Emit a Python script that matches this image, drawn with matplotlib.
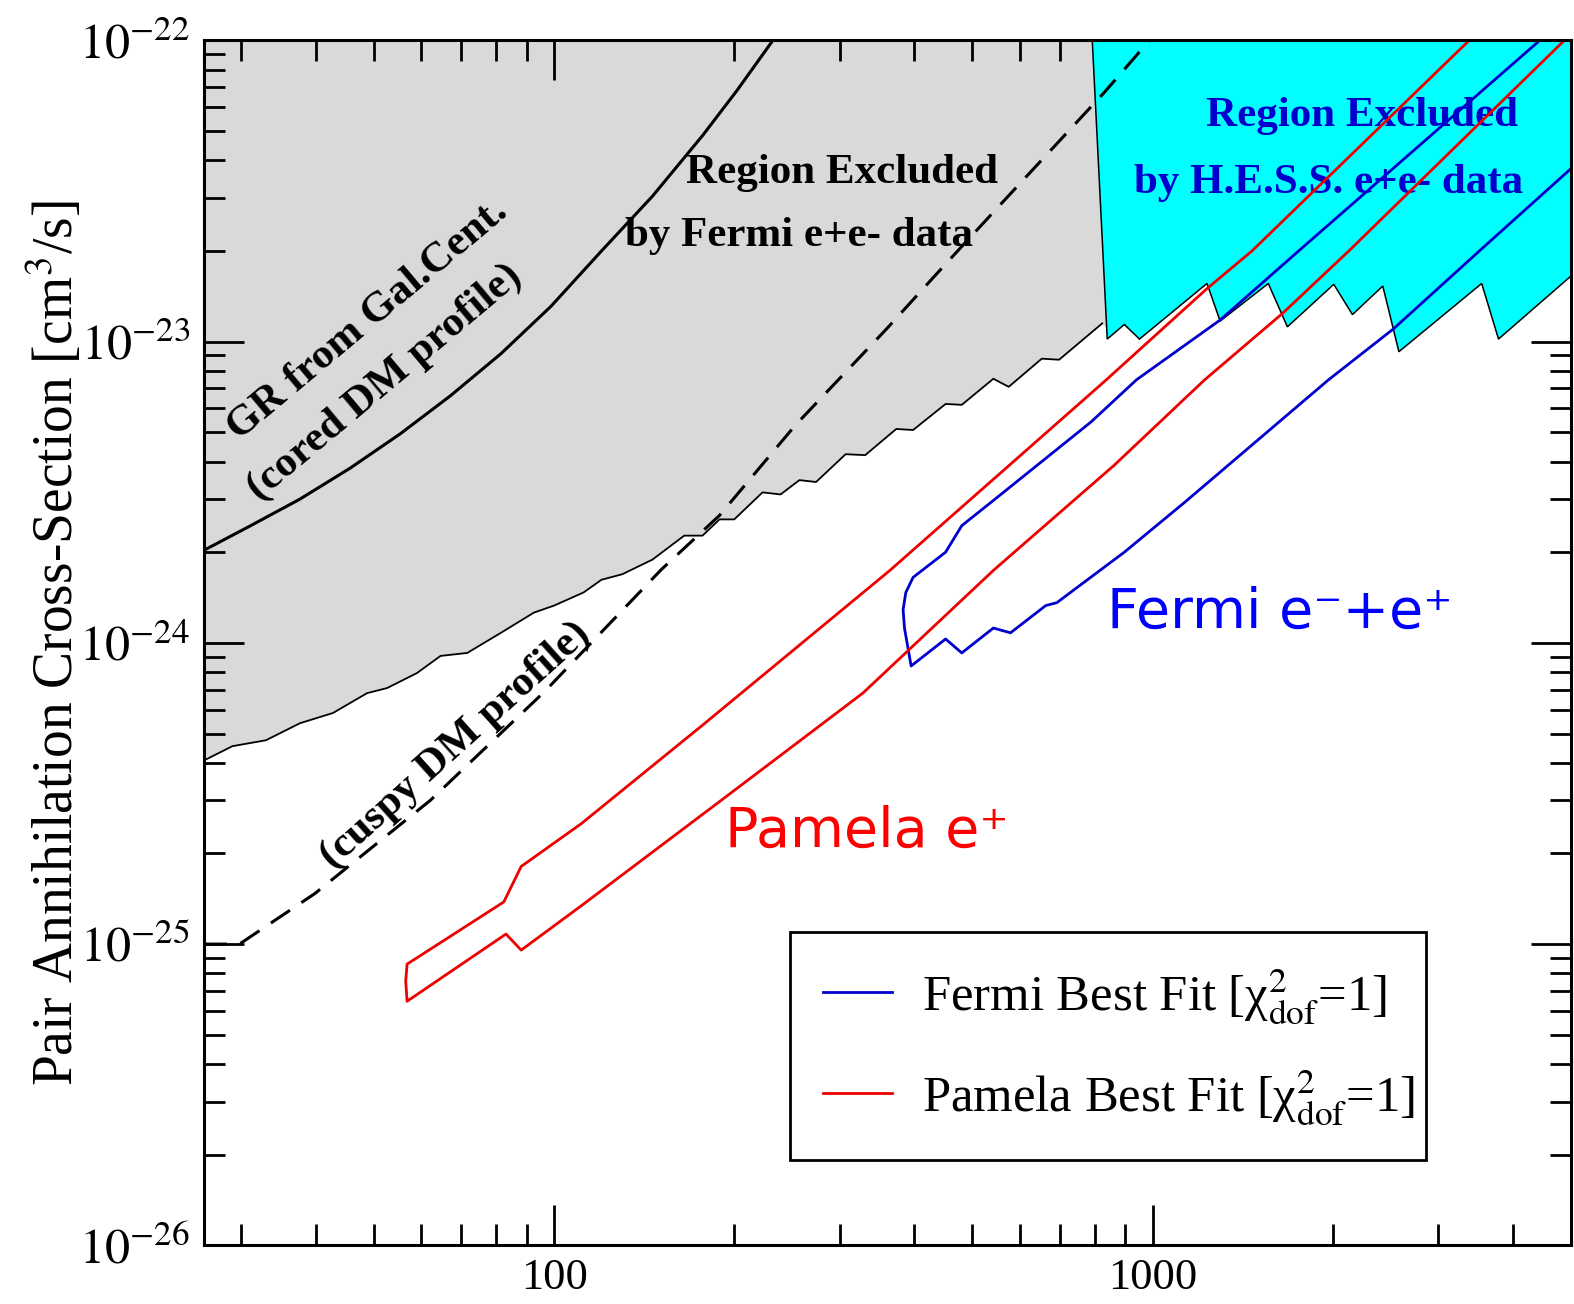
import numpy as np
import matplotlib.pyplot as plt
from matplotlib.ticker import FixedLocator, FixedFormatter, LogLocator, NullFormatter

plt.rcParams['font.family'] = ['Liberation Serif', 'DejaVu Serif']
plt.rcParams['mathtext.fontset'] = 'stix'

# axis ranges (mass in GeV, <sigma v> in cm^3/s)
m_min, m_max = 26, 5000
sv_min, sv_max = 1e-26, 1e-22

# lower edge of the region excluded by Fermi e+e- data (gray)
fermi_excl_m = [26, 29.0, 33.0, 37.6, 42.7, 48.7, 52.6, 59.0, 64.6, 71.6,
                81.5, 92.5, 100, 112, 120, 130, 146, 165, 177, 189,
                200, 223, 239, 257, 274, 307, 331, 373, 398, 451,
                480, 542, 575, 653, 698, 824]
fermi_excl_sv = [4.07e-25, 4.54e-25, 4.75e-25, 5.41e-25, 5.85e-25, 6.81e-25, 7.08e-25, 7.94e-25, 9.05e-25, 9.26e-25,
                 1.08e-24, 1.26e-24, 1.33e-24, 1.47e-24, 1.62e-24, 1.69e-24, 1.89e-24, 2.27e-24, 2.27e-24, 2.57e-24,
                 2.57e-24, 3.16e-24, 3.11e-24, 3.47e-24, 3.42e-24, 4.23e-24, 4.20e-24, 5.13e-24, 5.09e-24, 6.21e-24,
                 6.17e-24, 7.53e-24, 7.08e-24, 8.78e-24, 8.71e-24, 1.15e-23]

# region excluded by H.E.S.S. (cyan): left edge + saw-tooth lower edge
hess_m = [793, 840, 897, 951, 1233, 1297, 1561, 1680, 2008, 2158, 2425, 2580, 3548, 3785, 5000]
hess_sv = [1e-22, 1.02e-23, 1.14e-23, 1.02e-23, 1.56e-23, 1.17e-23, 1.56e-23, 1.12e-23,
           1.55e-23, 1.23e-23, 1.53e-23, 9.26e-24, 1.56e-23, 1.02e-23, 1.65e-23]

# gamma-ray limits from the Galactic Center
gr_cored_m = [26, 31.0, 37.6, 45.6, 55.3, 67.1, 81.5, 98.8, 120, 146, 177, 202, 232]
gr_cored_sv = [2.03e-24, 2.44e-24, 3.0e-24, 3.80e-24, 4.94e-24, 6.61e-24, 9.12e-24,
               1.31e-23, 2.0e-23, 3.04e-23, 4.83e-23, 6.81e-23, 1.0e-22]
gr_cuspy_m = [26, 29.8, 39.8, 62.1, 96.6, 151, 189, 253, 359, 451, 564, 684, 830, 988]
gr_cuspy_sv = [1e-25, 1e-25, 1.47e-25, 3.0e-25, 6.92e-25, 1.75e-24, 2.65e-24, 5.28e-24,
               1.10e-23, 1.81e-23, 2.93e-23, 4.43e-23, 6.71e-23, 1e-22]

# best fit contours
pamela_m = [3381, 1466, 1233, 837, 364, 177, 111, 88.1, 82.4, 56.8, 56.5, 56.8,
            83.1, 88.1, 111, 191, 328, 542, 863, 1222, 1648, 2128, 5000]
pamela_sv = [1e-22, 2.0e-23, 1.50e-23, 7.47e-24, 1.74e-24, 5.33e-25, 2.51e-25, 1.81e-25, 1.38e-25,
             8.58e-26, 7.53e-26, 6.46e-26, 1.08e-25, 9.55e-26, 1.34e-25, 3.02e-25, 6.81e-25,
             1.74e-24, 3.89e-24, 7.47e-24, 1.24e-23, 2.0e-23, 1.05e-22]
fermi_m = [4436, 1754, 1297, 940, 789, 542, 480, 451, 398, 387, 383, 385, 395,
           451, 480, 542, 579, 663, 692, 897, 1132, 1968, 2523, 3516, 5000]
fermi_sv = [1e-22, 2.0e-23, 1.18e-23, 7.47e-24, 5.41e-24, 2.97e-24, 2.45e-24, 2.0e-24, 1.65e-24,
            1.47e-24, 1.29e-24, 1.12e-24, 8.38e-25, 1.03e-24, 9.26e-25, 1.12e-24, 1.08e-24,
            1.33e-24, 1.36e-24, 2.0e-24, 2.93e-24, 7.47e-24, 1.10e-23, 2.0e-23, 3.75e-23]

y_ticks = [1e-26, 1e-25, 1e-24, 1e-23, 1e-22]
y_ticklabels = [r'$10^{-26}$', r'$10^{-25}$', r'$10^{-24}$', r'$10^{-23}$', r'$10^{-22}$']
x_ticks = [100, 1000]
x_ticklabels = ['100', '1000']

fig = plt.figure(figsize=(15.74, 13.04), dpi=100)
ax = fig.add_axes([0.1296, 0.045, 0.8684, 0.924])
ax.set_xscale('log')
ax.set_yscale('log')

# gray region (fill, then its black lower edge)
gx = fermi_excl_m + [840, 840, m_min]
gy = fermi_excl_sv + [1.1e-23, sv_max, sv_max]
ax.fill(gx, gy, color='#d9d9d9', lw=0, zorder=1)
ax.plot(fermi_excl_m, fermi_excl_sv, color='black', lw=1.3, zorder=1.5)

# cyan region
cx = hess_m + [m_max]
cy = hess_sv + [sv_max]
ax.fill(cx, cy, facecolor='#00ffff', edgecolor='black', lw=1.1, zorder=2)

ax.plot(gr_cored_m, gr_cored_sv, color='black', lw=2.2, zorder=4)
ax.plot(gr_cuspy_m, gr_cuspy_sv, color='black', lw=2.2, ls=(0, (7.5, 4.5)), zorder=4)

ax.plot(fermi_m, fermi_sv, color='#0000cc', lw=2.0, zorder=5,
        label=r'Fermi Best Fit [χ$^{2}_{\mathrm{dof}}$=1]')
ax.plot(pamela_m, pamela_sv, color='#ee0000', lw=2.0, zorder=5,
        label=r'Pamela Best Fit [χ$^{2}_{\mathrm{dof}}$=1]')

ax.set_xlim(m_min, m_max)
ax.set_ylim(sv_min, sv_max)

# ticks
ax.xaxis.set_major_locator(FixedLocator(x_ticks))
ax.xaxis.set_major_formatter(FixedFormatter(x_ticklabels))
ax.xaxis.set_minor_locator(LogLocator(base=10, subs=np.arange(2, 10), numticks=30))
ax.xaxis.set_minor_formatter(NullFormatter())
ax.yaxis.set_major_locator(FixedLocator(y_ticks))
ax.yaxis.set_major_formatter(FixedFormatter(y_ticklabels))
ax.yaxis.set_minor_locator(LogLocator(base=10, subs=np.arange(2, 10), numticks=30))
ax.yaxis.set_minor_formatter(NullFormatter())
ax.tick_params(which='both', direction='in', top=True, right=True, width=2)
ax.tick_params(which='major', length=29)
ax.tick_params(which='minor', length=15)
ax.tick_params(axis='x', which='major', pad=9, labelsize=32)
ax.tick_params(axis='y', which='major', pad=10, labelsize=36)
for s in ax.spines.values():
    s.set_linewidth(2.2)
    s.set_zorder(10)

ax.set_ylabel(r'Pair Annihilation Cross-Section [cm$^{3}$/s]', fontsize=40)
ax.yaxis.set_label_coords(-0.087, 0.5)

# annotations
bold = dict(fontsize=31, fontweight='bold', ha='center', va='center', zorder=3)
ax.text(48.9, 1.18e-23, 'GR from Gal.Cent.', rotation=40, **bold)
ax.text(52.2, 7.3e-24, '(cored DM profile)', rotation=40, **bold)
ax.text(68.4, 4.57e-25, '(cuspy DM profile)', rotation=42, **bold)
ax.text(303, 3.63e-23, 'Region Excluded', **bold)
ax.text(257, 2.24e-23, 'by Fermi e+e- data', **bold)
ax.text(2239, 5.62e-23, 'Region Excluded', color='#0000cc', **bold)
ax.text(1968, 3.36e-23, 'by H.E.S.S. e+e- data', color='#0000cc', **bold)
ax.text(1633, 1.26e-24, 'Fermi e\u207b+e\u207a', color='#0000ff', fontsize=40,
        family=['DejaVu Sans'], ha='center', va='center', zorder=6)
ax.text(333, 2.36e-25, 'Pamela e\u207a', color='#ff0000', fontsize=40,
        family=['DejaVu Sans'], ha='center', va='center', zorder=6)

leg = ax.legend(loc='lower left', bbox_to_anchor=(0.429, 0.071, 0.465, 0.189), mode='expand',
                borderaxespad=0, fontsize=36.5, fancybox=False, edgecolor='black', framealpha=1,
                handlelength=1.35, handletextpad=0.6, borderpad=0.65, labelspacing=0.8)
leg.get_frame().set_linewidth(2)
leg.set_zorder(8)

fig.savefig('out.png', dpi=100)
